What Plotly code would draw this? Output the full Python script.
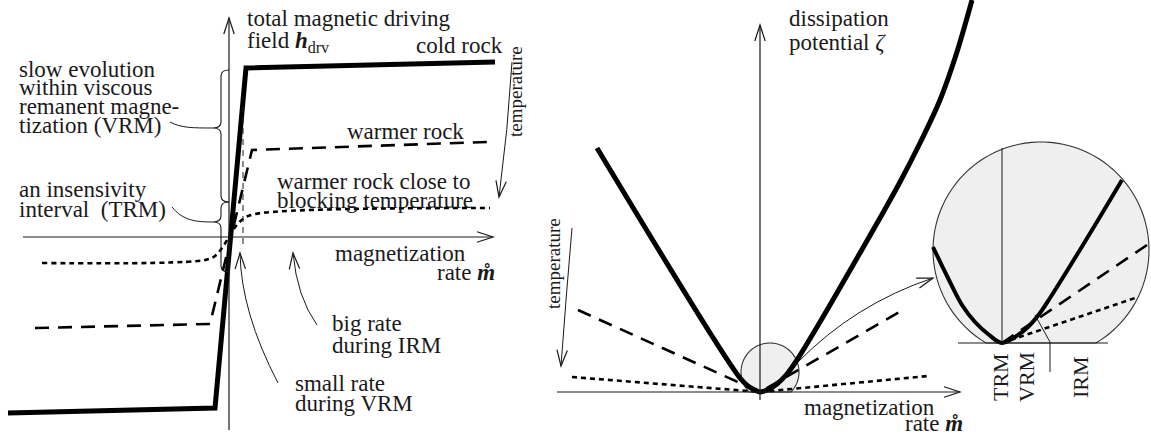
import numpy as np
import plotly.graph_objects as go

W, H = 1151, 437
INK = "#1a1a1a"
FONT = "Liberation Serif, Times New Roman, Times, DejaVu Serif, serif"
FS = 23

# ---------------- data: left panel (magnetization rate -> driving field) ----
cold_rate = [-11.05, -0.7, 0.85, 13.3]
cold_field = [-8.8, -8.55, 8.45, 8.75]
warm_rate = [-9.7, -0.95, 1.15, 12.9]
warm_field = [-4.55, -4.35, 4.35, 4.75]
block_rate = [-9.35, -1.2, -0.7, -0.35, 0.0, 0.35, 0.7, 1.3, 13.05]
block_field = [-1.3, -1.15, -0.95, -0.55, 0.0, 0.55, 0.9, 1.15, 1.45]

# ---------------- data: right panel (dissipation potential) ----------------
cold_zeta_rate = [-8.15, -1.0, -0.6, -0.25, 0.0, 0.35, 0.85, 1.35, 1.75, 3.0, 5.0, 6.0, 7.0, 8.0, 9.0, 9.8, 10.6]
cold_zeta = [12.2, 0.7, 0.3, 0.1, 0.0, 0.1, 0.4, 0.9, 1.45, 3.5, 6.95, 8.7, 10.5, 12.45, 14.6, 16.85, 19.6]
warm_zeta_rate = [-9.1, 0.0, 7.15]
warm_zeta = [4.1, 0.0, 4.1]
block_zeta_rate = [-9.4, 0.0, 8.4]
block_zeta = [0.75, 0.0, 0.8]

# ---------------- data: magnified inset ----------------
inset_cold_rate = [-3.45, -2.7, -2.0, -1.35, -0.7, 0.0, 0.65, 1.3, 1.9, 2.4, 4.2, 6.0]
inset_cold_zeta = [4.8, 3.25, 1.9, 1.05, 0.45, 0.0, 0.3, 0.8, 1.5, 2.25, 5.15, 8.15]
inset_warm_rate = [0.0, 7.25]
inset_warm_zeta = [0.0, 4.9]
inset_block_rate = [0.0, 6.8]
inset_block_zeta = [0.0, 2.3]
inset_labels = ["TRM", "VRM", "IRM"]
inset_label_rate = [-0.1, 1.2, 3.9]

fig = go.Figure()

def add_line(x, y, xa, ya, width, dash="solid", shape="linear"):
    fig.add_trace(go.Scatter(x=x, y=y, xaxis=xa, yaxis=ya, mode="lines",
                             line=dict(color="black", width=width, dash=dash, shape=shape),
                             hoverinfo="skip", showlegend=False))

THICK, MED = 5, 2.6
DASH, DOT = "14px,9px", "5px,4px"
add_line(cold_rate, cold_field, "x", "y", THICK)
add_line(warm_rate, warm_field, "x", "y", MED, DASH)
add_line(block_rate, block_field, "x", "y", MED, DOT, "spline")
add_line(cold_zeta_rate, cold_zeta, "x2", "y2", THICK, shape="spline")
add_line(warm_zeta_rate, warm_zeta, "x2", "y2", MED, DASH)
add_line(block_zeta_rate, block_zeta, "x2", "y2", MED, DOT)
add_line(inset_cold_rate, inset_cold_zeta, "x3", "y3", 4, shape="spline")
add_line(inset_warm_rate, inset_warm_zeta, "x3", "y3", MED, DASH)
add_line(inset_block_rate, inset_block_zeta, "x3", "y3", MED, DOT)

# ---------------- decorations (shapes in axis units) ----------------
shapes = []

def sh_path(path, xref, yref, width=1.2, dash="solid", fill=None, layer="above", color=INK):
    d = dict(type="path", path=path, xref=xref, yref=yref, layer=layer,
             line=dict(color=color, width=width, dash=dash))
    if fill:
        d["fillcolor"] = fill
    shapes.append(d)

def seg(p0, p1, xref, yref, width=1.2, dash="solid"):
    sh_path(f"M {p0[0]},{p0[1]} L {p1[0]},{p1[1]}", xref, yref, width, dash)

def head(tip, d, xref, yref, L=0.8, w=0.26):
    n = (d[0] ** 2 + d[1] ** 2) ** 0.5
    ux, uy = d[0] / n, d[1] / n
    bx, by = tip[0] - ux * L, tip[1] - uy * L
    px, py = -uy * w, ux * w
    sh_path(f"M {bx+px},{by+py} L {tip[0]},{tip[1]} L {bx-px},{by-py}", xref, yref)

def arrow(p0, p1, xref, yref):
    seg(p0, p1, xref, yref)
    head(p1, (p1[0] - p0[0], p1[1] - p0[1]), xref, yref)

def carrow(p0, c, p1, xref, yref, width=1.0):
    sh_path(f"M {p0[0]},{p0[1]} Q {c[0]},{c[1]} {p1[0]},{p1[1]}", xref, yref, width)
    head(p1, (p1[0] - c[0], p1[1] - c[1]), xref, yref)

def brace(xb, yt, yb, ytip, xtip, xhook, r=0.3):
    p = (f"M {xhook},{yt} Q {xb},{yt} {xb},{yt-r} L {xb},{ytip+r} "
         f"Q {xb},{ytip} {xtip},{ytip} Q {xb},{ytip} {xb},{ytip-r} "
         f"L {xb},{yb+r} Q {xb},{yb} {xhook},{yb}")
    sh_path(p, "x", "y", 1.1)

def cap(cx, cy, r, ycut, xref, yref, n=90):
    a0 = np.arcsin((ycut - cy) / r)
    ang = np.linspace(a0, np.pi - a0, n)
    pts = [f"{cx + r*np.cos(a):.4f},{cy + r*np.sin(a):.4f}" for a in ang]
    sh_path("M " + " L ".join(pts) + " Z", xref, yref, 1.1, fill="#efefef",
            layer="below", color="#333333")

# left panel axes
arrow((-10.3, 0), (13.2, 0), "x", "y")
arrow((0, -9.65), (0, 10.95), "x", "y")
seg((0.7, 7.1), (0.7, -0.5), "x", "y", 1.0, "6px,5px")
brace(-0.4, 8.35, 1.75, 5.45, -0.8, 0.0)
brace(-0.4, 1.75, -1.75, 0.75, -0.8, 0.0)
sh_path("M -2.95,5.75 C -2.4,5.45 -1.8,5.45 -0.8,5.45", "x", "y", 1.0)
sh_path("M -2.85,1.5 C -2.3,0.8 -1.6,0.75 -0.8,0.75", "x", "y", 1.0)
carrow((14.15, 8.75), (13.95, 5.35), (13.5, 2.0), "x", "y")
carrow((4.4, -4.4), (3.4, -3.0), (3.2, -0.8), "x", "y")
carrow((2.45, -7.3), (0.6, -3.75), (0.55, -0.8), "x", "y")

# right panel axes
arrow((-10.15, 0), (10.0, 0), "x2", "y2")
arrow((0, -0.4), (0, 18.35), "x2", "y2")
cap(0.5, 1.0, 1.45, 0.0, "x2", "y2")
carrow((-9.4, 8.2), (-9.7, 4.75), (-9.95, 1.3), "x2", "y2")
carrow((1.9, 1.5), (4.75, 4.4), (8.65, 5.7), "x2", "y2")

# inset
cap(1.95, 4.65, 5.4, 0.0, "x3", "y3")
seg((-2.2, 0), (5.3, 0), "x3", "y3", 1.2)
seg((0, 0), (0, 9.75), "x3", "y3", 1.0)
sh_path("M 1.65,1.4 L 2.4,0.05 L 2.4,-1.45", "x3", "y3", 1.0)

# ---------------- text ----------------
ann = []

def txt(s, px, py, anchor="left", angle=0, size=FS):
    ann.append(dict(text=s, x=px / W, y=1 - py / H, xref="paper", yref="paper",
                    xanchor=anchor, yanchor="middle", showarrow=False,
                    textangle=angle, font=dict(family=FONT, size=size, color=INK)))

mring = "<b><i>m\u030a</i></b>"
txt("slow evolution", 17, 69)
txt("within viscous", 17, 87)
txt("remanent magne-", 17, 106)
txt("tization (VRM)", 17, 126)
txt("an insensivity", 17, 190)
txt("interval  (TRM)", 17, 209)
txt("total magnetic driving", 245, 19)
txt("field <b><i>h</i></b><sub>drv</sub>", 245, 42)
txt("cold rock", 505, 45, "right")
txt("temperature", 515, 92, "center", -90, 19)
txt("warmer rock", 405, 131, "center")
txt("warmer rock close to", 275, 181)
txt("blocking temperature", 275, 200)
txt("magnetization", 333, 253)
txt("rate " + mring, 497, 272, "right")
txt("big rate", 330, 323)
txt("during IRM", 330, 345)
txt("small rate", 293, 383)
txt("during VRM", 293, 403)

txt("dissipation", 787, 19)
txt("potential <i>ζ</i>", 787, 42)
txt("temperature", 553, 264, "center", -90, 19)
txt("magnetization", 802, 407)
txt("rate " + mring, 965, 423, "right")
for lab, r in zip(inset_labels, inset_label_rate):
    txt(lab, 1002 + r * 20, 377, "center", -90, 22)

ax_common = dict(visible=False, fixedrange=True, showgrid=False, zeroline=False)
fig.update_layout(
    width=W, height=H, margin=dict(l=0, r=0, t=0, b=0),
    paper_bgcolor="white", plot_bgcolor="rgba(0,0,0,0)",
    xaxis=dict(domain=[0, 520 / W], range=[-229 / 20, 291 / 20], anchor="y", **ax_common),
    yaxis=dict(domain=[0, 1], range=[-200 / 20, 237 / 20], anchor="x", **ax_common),
    xaxis2=dict(domain=[540 / W, 1], range=[-220 / 20, 391 / 20], anchor="y2", **ax_common),
    yaxis2=dict(domain=[0, 1], range=[-45 / 20, 392 / 20], anchor="x2", **ax_common),
    xaxis3=dict(domain=[925 / W, 1], range=[-77 / 20, 149 / 20], anchor="y3", **ax_common),
    yaxis3=dict(domain=[0, 1], range=[-94 / 20, 343 / 20], anchor="x3", **ax_common),
    shapes=shapes, annotations=ann, showlegend=False,
)
fig.write_html("out.html", config={"displayModeBar": False},
               post_script="document.body.style.margin='0px';")
